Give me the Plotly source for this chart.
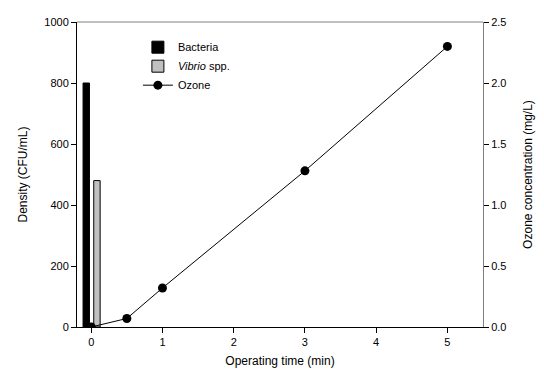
import plotly.graph_objects as go

bar_names = ["Bacteria", "<i>Vibrio</i> spp."]
bar_x = [-0.07, 0.08]
bar_values = [800, 480]
bar_colors = ["#000000", "#c0c0c0"]

ozone_time = [0, 0.5, 1, 3, 5]
ozone_conc = [0.0, 0.07, 0.32, 1.28, 2.30]

font = "Liberation Sans, Arial, sans-serif"

fig = go.Figure()
for name, x, v, c in zip(bar_names, bar_x, bar_values, bar_colors):
    fig.add_trace(go.Bar(x=[x], y=[v], width=0.09, name=name,
                         marker=dict(color=c, line=dict(color="#000000", width=1))))
fig.add_trace(go.Scatter(x=ozone_time, y=ozone_conc, yaxis="y2", name="Ozone",
                         mode="lines+markers",
                         line=dict(color="#000000", width=1),
                         marker=dict(color="#000000", size=9, symbol="circle")))

fig.update_layout(
    width=536, height=366,
    margin=dict(l=69, r=61, t=8, b=47),
    paper_bgcolor="white", plot_bgcolor="white",
    font=dict(family=font, size=11, color="#000000"),
    barmode="overlay",
    showlegend=True,
    legend=dict(x=0.15, y=0.965, xanchor="left", yanchor="top",
                bgcolor="rgba(0,0,0,0)", font=dict(size=11), tracegroupgap=0,
                itemwidth=30),
    xaxis=dict(range=[-0.2, 5.5], tickvals=[0, 1, 2, 3, 4, 5], showgrid=False, zeroline=False,
               showline=True, linecolor="#000000", linewidth=1,
               ticks="outside", ticklen=5, tickcolor="#000000",
               title=dict(text="Operating time (min)", font=dict(size=12), standoff=9)),
    yaxis=dict(range=[0, 1000], tickvals=[0, 200, 400, 600, 800, 1000], showgrid=False, zeroline=False,
               showline=True, linecolor="#000000", linewidth=1,
               ticks="outside", ticklen=5, tickcolor="#000000",
               title=dict(text="Density (CFU/mL)", font=dict(size=12), standoff=14)),
    yaxis2=dict(range=[0, 2.5], tickvals=[0, 0.5, 1.0, 1.5, 2.0, 2.5], tickformat=".1f",
                overlaying="y", side="right", showgrid=False, zeroline=False,
                showline=True, linecolor="#808080", linewidth=1,
                ticks="outside", ticklen=5, tickcolor="#000000",
                title=dict(text="Ozone concentration (mg/L)", font=dict(size=12), standoff=18)),
    shapes=[dict(type="line", xref="paper", yref="paper", x0=0, x1=1, y0=1, y1=1,
                 line=dict(color="#808080", width=1))],
)

fig.write_html("out.html")
